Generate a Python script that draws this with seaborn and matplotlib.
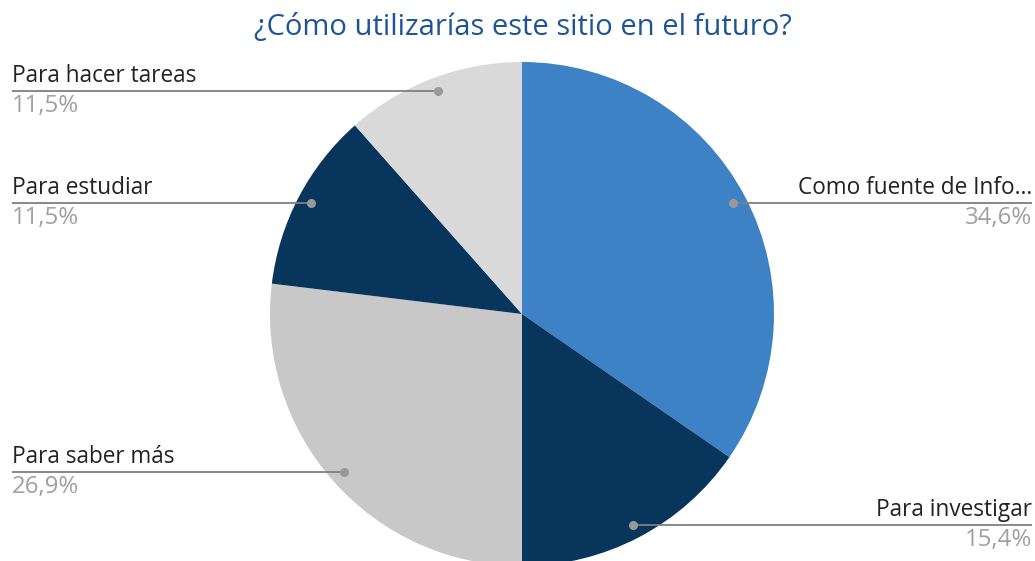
import matplotlib

matplotlib.use("Agg")
import matplotlib.pyplot as plt
import numpy as np
import seaborn as sns

TITLE = "¿Cómo utilizarías este sitio en el futuro?"
CATEGORIES = ["Como fuente de Info...", "Para investigar", "Para saber más", "Para estudiar", "Para hacer tareas"]
COUNTS = [9, 4, 7, 3, 3]
COLORS = ["#3d82c4", "#08355c", "#c8c8c8", "#08355c", "#d9d9d9"]

W, H = 1035, 561
CENTER = (522, 314)
RADIUS = 252

sns.set_theme(style="white")
plt.rcParams["font.family"] = ["Open Sans", "DejaVu Sans"]

fig = plt.figure(figsize=(W / 100, H / 100), dpi=100)
ax = fig.add_axes([0, 0, 1, 1])

wedges, _ = ax.pie(
    COUNTS,
    colors=COLORS,
    startangle=-90,
    counterclock=True,
    center=CENTER,
    radius=RADIUS,
    wedgeprops={"linewidth": 0},
)
ax.set_aspect("auto")
ax.set_xlim(0, W)
ax.set_ylim(H, 0)
ax.axis("off")

total = sum(COUNTS)
for wedge, label, count in zip(wedges, CATEGORIES, COUNTS):
    mid = np.deg2rad((wedge.theta1 + wedge.theta2) / 2)
    dx = CENTER[0] + 0.945 * RADIUS * np.cos(mid)
    dy = CENTER[1] + 0.945 * RADIUS * np.sin(mid)
    pct = f"{100 * count / total:.1f}%".replace(".", ",")
    if dx < CENTER[0]:
        x0, x1, ha = 12, dx, "left"
        tx = 12
    else:
        x0, x1, ha = dx, 1032, "right"
        tx = 1032
    ax.plot([x0, x1], [dy, dy], color="#7f7f7f", linewidth=1.3, solid_capstyle="butt")
    ax.plot(dx, dy, "o", color="#999999", markersize=5.5)
    ax.text(tx, dy - 3, label, ha=ha, va="bottom", fontsize=16.3, color="#222222")
    ax.text(tx, dy + 3, pct, ha=ha, va="top", fontsize=17.3, color="#a0a0a0")

ax.text(523, 27, TITLE, ha="center", va="center", fontsize=21, color="#1f5597")

fig.savefig("out.png", dpi=100)
